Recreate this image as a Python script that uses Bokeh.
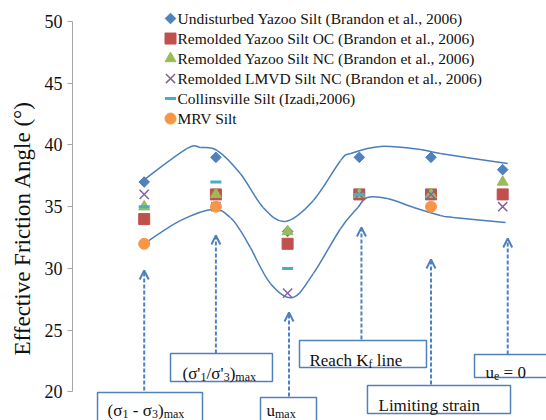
import numpy as np
from bokeh.plotting import figure
from bokeh.models import (Range1d, FixedTicker, Arrow, OpenHead, Title,
                          BoxAnnotation, Label, ColumnDataSource)
from bokeh.embed import file_html
from bokeh.resources import INLINE

nan = np.nan

# Failure-criterion positions along the horizontal axis
stages = [1, 2, 3, 4, 5, 6]

# Effective friction angle (deg) for each soil at each criterion
undisturbed_yazoo = [37, 39, 33, 39, 39, 38]
remolded_yazoo_oc = [34, 36, 32, 36, 36, 36]
remolded_yazoo_nc = [35, 36, 33, 36, 36, 37]
remolded_lmvd_nc = [36, 35, 28, 36, 36, 35]
collinsville = [35, 37, 30, 36, nan, nan]
mrv_silt = [32, 35, nan, nan, 35, nan]

series_labels = [
    "Undisturbed Yazoo Silt (Brandon et al., 2006)",
    "Remolded Yazoo Silt OC (Brandon et al., 2006)",
    "Remolded Yazoo Silt NC (Brandon et al., 2006)",
    "Remolded LMVD Silt NC (Brandon et al., 2006)",
    "Collinsville Silt (Izadi,2006)",
    "MRV Silt",
]

y_ticks = [20, 25, 30, 35, 40, 45, 50]
y_title = "Effective Friction Angle (°)"

# Hand-drawn envelope curves (knots in data units)
upper_x = [1.00, 1.60, 1.79, 2.02, 2.34, 2.66, 2.97, 3.36, 3.74, 3.88, 4.30, 4.85, 5.13, 6.07]
upper_y = [37.2, 39.72, 39.80, 39.55, 37.69, 34.94, 33.81, 35.51, 38.75, 39.31, 39.88, 39.64, 39.31, 38.50]
lower_x = [1.00, 1.51, 1.97, 2.20, 2.34, 2.48, 2.76, 3.07, 3.36, 3.74, 3.98, 4.11, 4.39, 4.76, 5.13, 5.31, 6.04]
lower_y = [32.0, 33.89, 34.80, 34.13, 33.08, 31.70, 28.79, 27.65, 29.60, 33.24, 34.94, 35.75, 35.67, 34.94, 34.29, 34.13, 33.72]

# Criterion call-outs: arrow position, arrow tip / tail, box extent, text start / baseline
callout_x = [1.00, 2.00, 3.02, 4.03, 5.00, 6.07]
arrow_tip = [29.84, 32.67, 26.44, 33.32, 30.73, 32.43]
arrow_tail = [20.12, 23.12, 19.64, 24.25, 20.61, 23.04]
box_left = [0.349, 1.367, 2.622, 3.166, 4.114, 5.607]
box_right = [1.813, 2.789, 3.403, 4.937, 6.109, 6.75]
box_top = [19.96, 23.12, 19.55, 24.17, 20.53, 23.04]
box_bottom = [17.0, 20.85, 17.0, 21.98, 18.26, 21.17]
text_x = [0.488, 1.534, 2.706, 3.305, 4.268, 5.760]
text_y = [18.50, 21.50, 18.52, 22.55, 18.91, 21.58]
# each label as (text, is_subscript) pieces
callout_text = [
    [("(σ", False), ("1", True), (" - σ", False), ("3", True), (")", False), ("max", True)],
    [("(σ'", False), ("1", True), ("/σ'", False), ("3", True), (")", False), ("max", True)],
    [("u", False), ("max", True)],
    [("Reach K", False), ("f", True), (" line", False)],
    [("Limiting strain", False)],
    [("u", False), ("e", True), (" = 0", False)],
]

# Key block placement (data units): marker column, text column, first row, row step
key_marker_x = 1.367
key_text_x = 1.464
key_top_y = 50.24
key_step = 1.62

SERIF = "Liberation Serif"
BLUE = "#4F81BD"
CURVE = "#4A7EBB"
TEXT = "#111111"

p = figure(width=546, height=420, output_backend="svg", toolbar_location=None,
           x_range=Range1d(0, 6.611), y_range=Range1d(17.69, 51.70),
           x_axis_location=None, min_border_left=72, min_border_right=0,
           min_border_top=0, min_border_bottom=0)
p.outline_line_color = None
p.xgrid.visible = False
p.ygrid.visible = False
p.background_fill_color = "white"
p.border_fill_color = "white"

ax = p.yaxis[0]
ax.ticker = FixedTicker(ticks=y_ticks)
ax.bounds = (20, 50)
ax.axis_line_color = "#a6a6a6"
ax.major_tick_line_color = "#a6a6a6"
ax.major_tick_out = 5
ax.major_tick_in = 0
ax.minor_tick_line_color = None
ax.major_label_text_font = SERIF
ax.major_label_text_font_size = "18px"
ax.major_label_text_color = TEXT
ax.major_label_standoff = 5

# vertical axis title, starting a little above the bottom edge
p.add_layout(Title(text=y_title, align="left", offset=65, standoff=13,
                   text_font=SERIF, text_font_size="23px",
                   text_font_style="normal", text_color=TEXT), "left")

# envelope curves drawn as Catmull-Rom bezier segments through the knots
def curve_source(xs, ys):
    P = np.column_stack([xs, ys])
    ext = np.vstack([P[0], P, P[-1]])
    segs = dict(x0=[], y0=[], x1=[], y1=[], cx0=[], cy0=[], cx1=[], cy1=[])
    for i in range(1, len(ext) - 2):
        p0, p1, p2, p3 = ext[i - 1], ext[i], ext[i + 1], ext[i + 2]
        c1 = p1 + (p2 - p0) / 6.0
        c2 = p2 - (p3 - p1) / 6.0
        segs["x0"].append(p1[0]); segs["y0"].append(p1[1])
        segs["x1"].append(p2[0]); segs["y1"].append(p2[1])
        segs["cx0"].append(c1[0]); segs["cy0"].append(c1[1])
        segs["cx1"].append(c2[0]); segs["cy1"].append(c2[1])
    return ColumnDataSource(segs)

for xs, ys in [(upper_x, upper_y), (lower_x, lower_y)]:
    p.bezier(x0="x0", y0="y0", x1="x1", y1="y1", cx0="cx0", cy0="cy0",
             cx1="cx1", cy1="cy1", source=curve_source(xs, ys),
             line_color=CURVE, line_width=1.5)

# marker style per series, in drawing order
styles = [
    dict(marker="square", size=7.5, angle=np.pi / 4, fill_color="#4F81BD", line_color="#4F81BD"),
    dict(marker="square", size=11, fill_color="#C0504D", line_color="#C0504D"),
    dict(marker="triangle", size=11, fill_color="#9BBB59", line_color="#9BBB59"),
    dict(marker="x", size=13, line_color="#8064A2", line_width=1.5),
    dict(marker="dash", size=11, line_color="#4BACC6", line_width=3),
    dict(marker="circle", size=11, fill_color="#F79646", line_color="#F79646"),
]
series_values = [undisturbed_yazoo, remolded_yazoo_oc, remolded_yazoo_nc,
                 remolded_lmvd_nc, collinsville, mrv_silt]

for vals, st in zip(series_values, styles):
    p.scatter(stages, vals, **st)

# key block: one marker and one label per series
for k, (lab, st) in enumerate(zip(series_labels, styles)):
    ky = key_top_y - k * key_step
    p.scatter([key_marker_x], [ky], **st)
    p.add_layout(Label(x=key_text_x, y=ky, text=lab, text_font=SERIF,
                       text_font_size="15.5px", text_color=TEXT,
                       text_baseline="middle", text_align="left"))

# call-out arrows and boxes
for i in range(len(callout_x)):
    p.add_layout(Arrow(x_start=callout_x[i], y_start=arrow_tail[i],
                       x_end=callout_x[i], y_end=arrow_tip[i],
                       line_color=BLUE, line_width=2, line_dash="4 2",
                       end=OpenHead(size=9, line_color=BLUE, line_width=2)))
    p.add_layout(BoxAnnotation(left=box_left[i], right=box_right[i],
                               top=box_top[i], bottom=box_bottom[i],
                               fill_color="white", fill_alpha=1.0,
                               line_color=BLUE, line_width=1.5, line_alpha=1.0))

EM = {"(": .333, ")": .333, "σ": .55, " ": .25, "-": .333, "1": .5, "3": .5,
      "'": .18, "/": .278, "m": .778, "a": .444, "x": .5, "u": .5, "e": .444,
      "R": .667, "c": .444, "h": .5, "K": .722, "f": .333}

def text_width(s, size):
    return sum(EM.get(ch, .5) for ch in s) * size

for i, pieces in enumerate(callout_text):
    adv = 0.0
    for txt, sub in pieces:
        size = 12 if sub else 17
        lead = len(txt) - len(txt.lstrip(" "))
        adv += text_width(" " * lead, size)
        body = txt.strip(" ")
        p.add_layout(Label(x=text_x[i], y=text_y[i], x_offset=adv,
                           y_offset=-4 if sub else 0, text=body,
                           text_font=SERIF, text_font_size=f"{size}px",
                           text_color=TEXT, text_baseline="alphabetic",
                           text_align="left"))
        adv += text_width(txt.lstrip(" "), size)

open("out.html", "w").write(file_html(p, INLINE))
